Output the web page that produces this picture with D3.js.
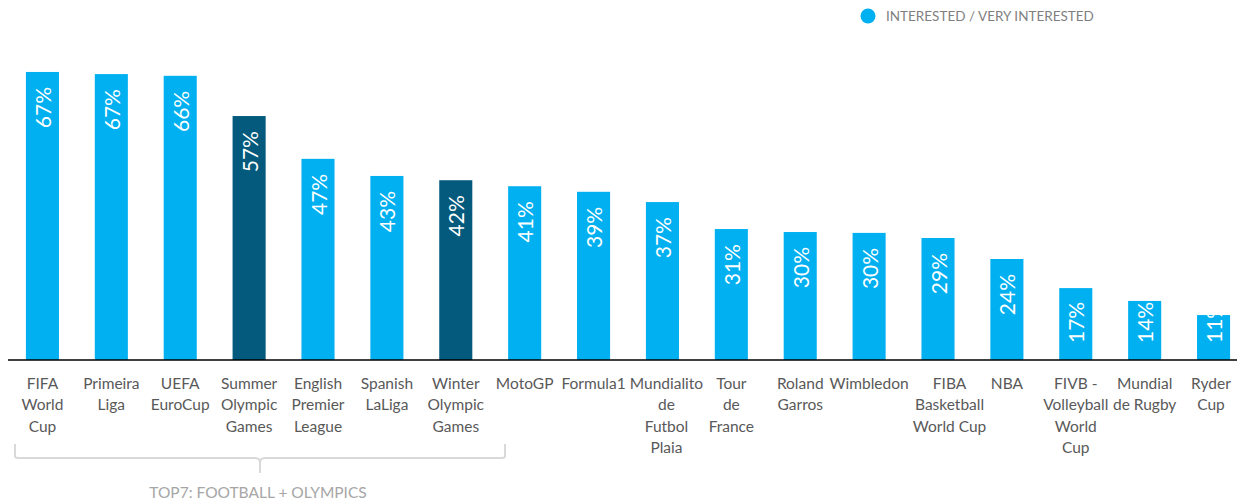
<!DOCTYPE html>
<html>
<head>
<meta charset="utf-8">
<script src="https://cdn.jsdelivr.net/npm/d3@7"></script>
<style>
  body { margin: 0; background: #fff; }
  svg { display: block; font-family: Lato, "Noto Sans", sans-serif; }
</style>
</head>
<body>
<svg id="chart" width="1237" height="502"></svg>
<script>
// -----
// DATA
// -----
const categories = [
  "FIFA\nWorld\nCup", "Primeira\nLiga", "UEFA\nEuroCup", "Summer\nOlympic\nGames",
  "English\nPremier\nLeague", "Spanish\nLaLiga", "Winter\nOlympic\nGames", "MotoGP",
  "Formula1", "Mundialito\nde\nFutbol\nPlaia", "Tour\nde\nFrance", "Roland\nGarros",
  "Wimbledon", "FIBA\nBasketball\nWorld Cup", "NBA", "FIVB -\nVolleyball\nWorld\nCup",
  "Mundial\nde Rugby", "Ryder\nCup"
];
const interested = [67.3, 66.8, 66.4, 57, 47, 43, 42, 40.6, 39.3, 36.9, 30.6, 29.9, 29.7, 28.5, 23.6, 16.8, 13.8, 10.5];
const olympics = ["Summer\nOlympic\nGames", "Winter\nOlympic\nGames"];
const legendLabel = "INTERESTED / VERY INTERESTED";
const groupLabel = "TOP7: FOOTBALL + OLYMPICS";

const colorBar = "#00b0f0";
const colorDark = "#035a7c";

const svg = d3.select("#chart");
const W = 1237;

const x = d3.scaleBand()
  .domain(categories)
  .range([8, 1248])
  .paddingInner(0.52)
  .paddingOuter(0.26);

const y = d3.scaleLinear()
  .domain([0, 70])
  .range([360, 360 - 70 * 4.28]);

const data = categories.map((c, i) => ({ cat: c, value: interested[i] }));

// Bars
svg.append("g")
  .attr("class", "bars")
  .selectAll("rect")
  .data(data)
  .join("rect")
  .attr("x", d => x(d.cat))
  .attr("y", d => y(d.value))
  .attr("width", x.bandwidth())
  .attr("height", d => y(0) - y(d.value))
  .attr("fill", d => olympics.includes(d.cat) ? colorDark : colorBar);

// Value labels, rotated, reading bottom to top (white, so hidden over white)
const labels = svg.append("g")
  .attr("class", "value-labels")
  .selectAll("text")
  .data(data)
  .join("text")
  .attr("fill", "#fff")
  .attr("font-size", 21)
  .attr("dominant-baseline", "central")
  .text(d => Math.round(d.value) + "%");

labels.each(function(d) {
  const len = this.getComputedTextLength();
  const cx = x(d.cat) + x.bandwidth() / 2;
  const ys = Math.min(y(d.value) + 15 + len, y(0) - 17);
  d3.select(this).attr("transform", `translate(${cx},${ys}) rotate(-90)`);
});

// Baseline
svg.append("line")
  .attr("x1", 8).attr("x2", W)
  .attr("y1", y(0)).attr("y2", y(0))
  .attr("stroke", "#000")
  .attr("stroke-width", 1.6);

// Category labels, pushed right when they collide with the previous one
const catG = svg.append("g").attr("class", "cat-labels");
let prevRight = -Infinity;
categories.forEach(c => {
  const t = catG.append("text")
    .attr("fill", "#595959")
    .attr("font-size", 15.5)
    .attr("text-anchor", "middle");
  c.split("\n").forEach((line, j) => {
    t.append("tspan")
      .attr("x", 0)
      .attr("y", 389 + j * 21.3)
      .text(line);
  });
  const w = t.node().getBBox().width;
  let cx = x(c) + x.bandwidth() / 2;
  if (cx - w / 2 < prevRight + 4) cx = prevRight + 4 + w / 2;
  if (cx + w / 2 > 1231) cx = 1231 - w / 2;
  prevRight = cx + w / 2;
  t.attr("transform", `translate(${cx},0)`);
});

// Bracket under the first group
const bx0 = 15, bx1 = 505, bTop = 444, bY = 458, bMid = (bx0 + bx1) / 2;
const br = d3.path();
br.moveTo(bx0, bTop);
br.lineTo(bx0, bY - 2);
br.quadraticCurveTo(bx0, bY, bx0 + 3, bY);
br.lineTo(bMid - 5, bY);
br.quadraticCurveTo(bMid, bY, bMid, bY + 5);
br.lineTo(bMid, bY + 15);
br.moveTo(bMid, bY + 5);
br.quadraticCurveTo(bMid, bY, bMid + 5, bY);
br.lineTo(bx1 - 3, bY);
br.quadraticCurveTo(bx1, bY, bx1, bY - 2);
br.lineTo(bx1, bTop);
svg.append("path")
  .attr("d", br.toString())
  .attr("fill", "none")
  .attr("stroke", "#d9d9d9")
  .attr("stroke-width", 2);

svg.append("text")
  .attr("x", bMid - 2)
  .attr("y", 498)
  .attr("text-anchor", "middle")
  .attr("fill", "#a6a6a6")
  .attr("font-size", 15.5)
  .text(groupLabel);

// Legend
const legend = svg.append("g").attr("class", "legend");
legend.append("circle")
  .attr("cx", 868).attr("cy", 16).attr("r", 7.5)
  .attr("fill", colorBar);
legend.append("text")
  .attr("x", 886).attr("y", 21)
  .attr("fill", "#7f7f7f")
  .attr("font-size", 13.5)
  .text(legendLabel);
</script>
</body>
</html>
